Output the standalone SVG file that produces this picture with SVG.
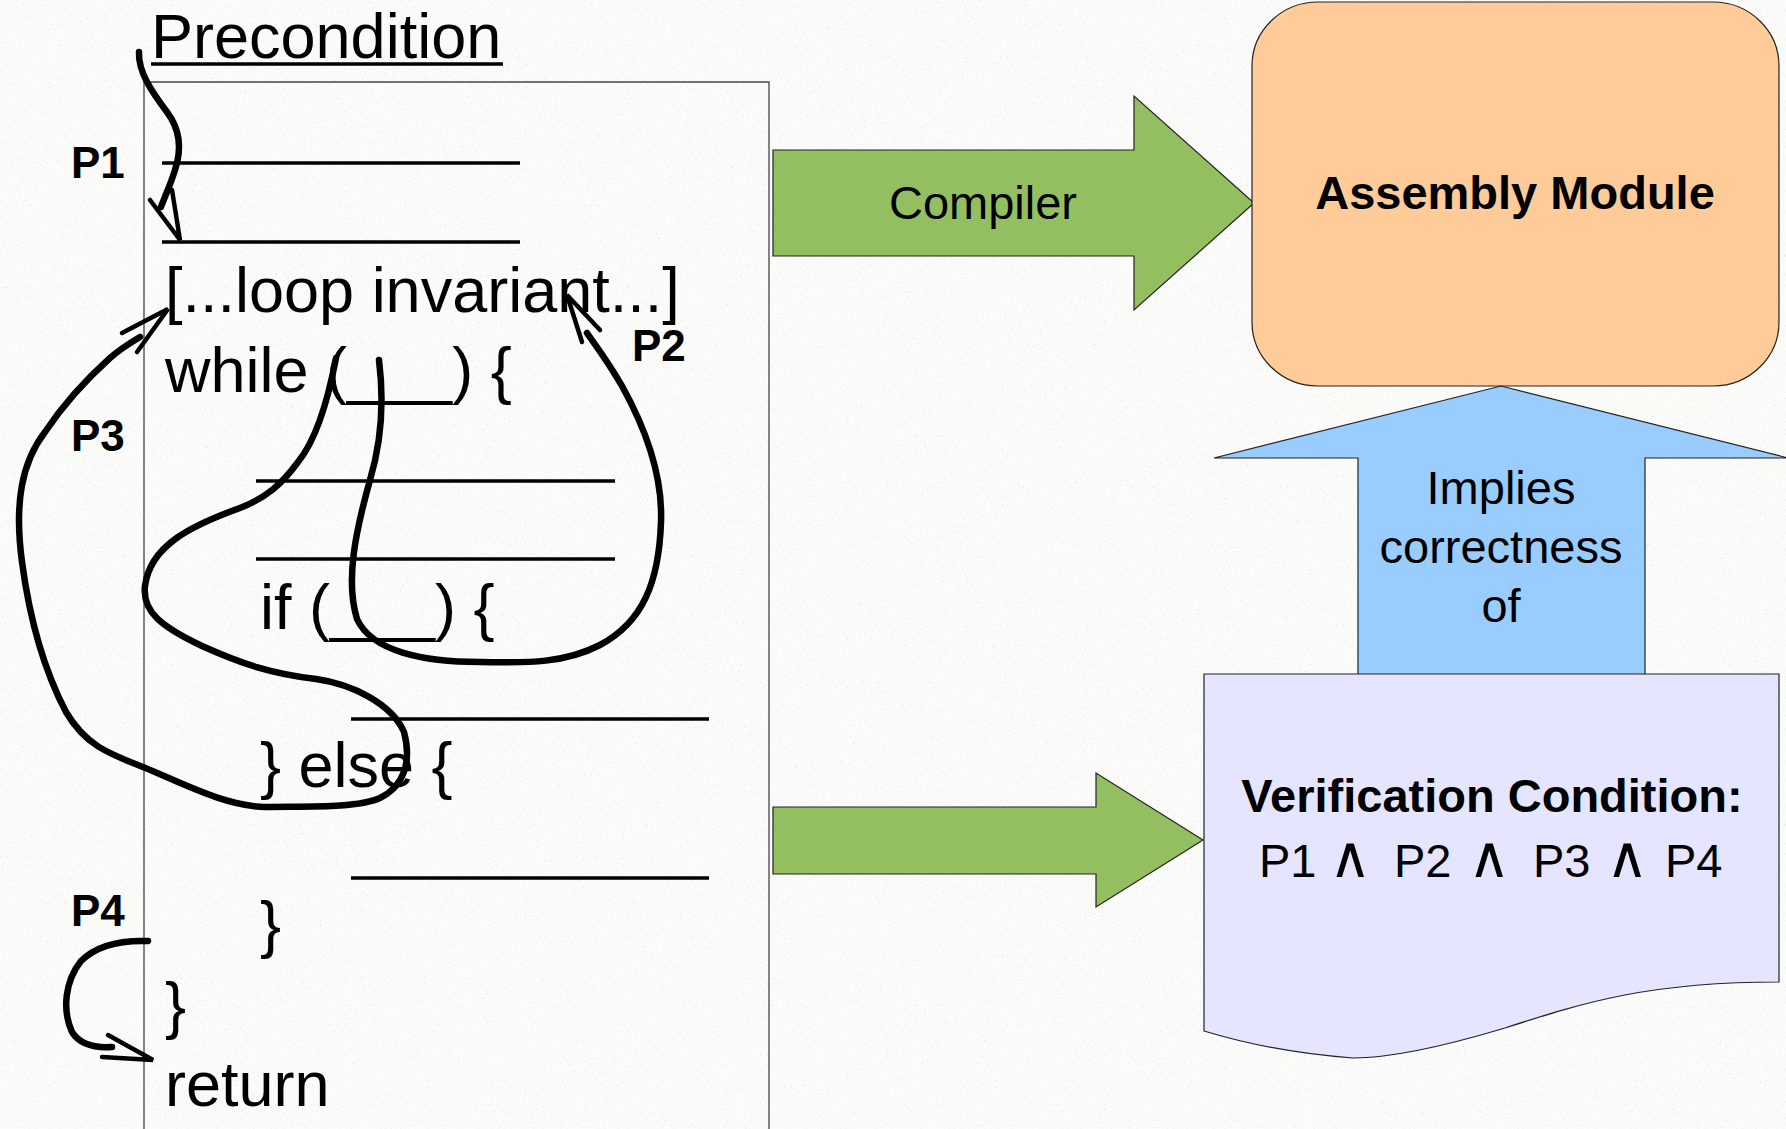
<svg xmlns="http://www.w3.org/2000/svg" width="1786" height="1129" viewBox="0 0 1786 1129">
  <defs>
    <filter id="grain" x="0" y="0" width="100%" height="100%">
      <feTurbulence type="fractalNoise" baseFrequency="0.45" numOctaves="2" seed="7" result="n"/>
      <feColorMatrix in="n" type="matrix" values="0 0 0 0 0.45  0 0 0 0 0.45  0 0 0 0 0.45  3 0 0 0 -1.8"/>
    </filter>
    <style>
      .code { font-family: "Liberation Sans", Arial, sans-serif; font-size: 63px; fill: #000; }
      .lbl { font-family: "Liberation Sans", Arial, sans-serif; font-size: 44px; font-weight: bold; fill: #000; }
      .big { font-family: "Liberation Sans", Arial, sans-serif; font-size: 47px; fill: #000; text-anchor: middle; }
      .bold { font-weight: bold; }
      .and { font-family: "DejaVu Sans", sans-serif; font-size: 58px; font-weight: 200; }
      .blank { stroke: #000; stroke-width: 3.5; fill: none; }
      .hand { stroke: #000; stroke-width: 6.5; fill: none; stroke-linecap: round; stroke-linejoin: round; }
      .head { stroke: #000; stroke-width: 4.5; fill: none; stroke-linecap: round; stroke-linejoin: miter; }
      .shape { stroke: #222; stroke-width: 1.2; }
    </style>
  </defs>

  <!-- paper background -->
  <rect x="0" y="0" width="1786" height="1129" fill="#fbfbfa"/>
  <rect x="0" y="0" width="1786" height="1129" filter="url(#grain)" opacity="0.3"/>

  <!-- source program -->
  <g id="program">
    <text class="code" x="151" y="58">Precondition</text>
    <line x1="151" y1="64" x2="503" y2="64" stroke="#000" stroke-width="3.5"/>
    <path d="M144,1135 V82 H769 V1135" fill="none" stroke="#444" stroke-width="1.3"/>
    <line class="blank" x1="162" y1="163" x2="520" y2="163"/>
    <line class="blank" x1="162" y1="242" x2="520" y2="242"/>
    <text class="code" x="165" y="312">[...loop invariant...]</text>
    <text class="code" x="165" y="392">while (___) {</text>
    <line class="blank" x1="256" y1="481" x2="615" y2="481"/>
    <line class="blank" x1="256" y1="559" x2="615" y2="559"/>
    <text class="code" x="260" y="629">if (___) {</text>
    <line class="blank" x1="351" y1="719" x2="709" y2="719"/>
    <text class="code" x="260" y="787">} else {</text>
    <line class="blank" x1="351" y1="878" x2="709" y2="878"/>
    <text class="code" x="260" y="946">}</text>
    <text class="code" x="165" y="1027">}</text>
    <text class="code" x="165" y="1106">return</text>
  </g>

  <!-- path labels -->
  <g id="labels">
    <text class="lbl" x="71" y="178">P1</text>
    <text class="lbl" x="632" y="361">P2</text>
    <text class="lbl" x="71" y="451">P3</text>
    <text class="lbl" x="71" y="926">P4</text>
  </g>

  <!-- hand-drawn verification paths -->
  <g id="connectors">
    <!-- P1: precondition to loop invariant -->
    <path class="hand" d="M139,52 C138,72 152,92 167,112 C182,132 181,152 175,170 C170,186 165,196 161,207"/>
    <path class="head" d="M150,200 L180,240 L172,190"/>
    <!-- P2: through the if branch back to the invariant -->
    <path class="hand" d="M379,360 C384,400 382,440 370,480 C356,530 345,580 357,619 C372,652 425,662 480,662 C530,663 565,663 600,645 C643,622 659,582 661,522 C663,470 642,422 622,386 C607,360 596,346 587,333"/>
    <path class="head" d="M582,342 L567,295 L600,330"/>
    <!-- P3: through the else branch back to the invariant -->
    <path class="hand" d="M336,358 C328,400 316,440 298,462 C282,484 266,498 240,508 C190,526 150,546 145,586 C142,612 162,627 202,646 C242,664 272,674 316,679 C352,684 392,704 404,732 C412,762 404,786 380,798 C355,809 300,806 265,807 C224,806 180,782 143,767 C110,754 86,746 66,712 C45,672 30,622 22,562 C14,502 22,462 45,432 C65,402 90,376 110,358 C120,349 130,343 140,337"/>
    <path class="head" d="M122,333 L168,309 L137,352"/>
    <!-- P4: loop exit to return -->
    <path class="hand" d="M148,941 C120,940 96,946 81,961 C65,981 62,1010 72,1032 C80,1045 95,1048 112,1047"/>
    <path class="head" d="M102,1057 L153,1060 L108,1035"/>
  </g>

  <!-- compiler arrow -->
  <g id="compiler-arrow">
    <path class="shape" fill="#94bf60" d="M773,150 H1134 V96 L1254,203 L1134,310 V256 H773 Z"/>
    <text class="big" x="983" y="219">Compiler</text>
  </g>

  <!-- generated verification condition arrow -->
  <g id="vc-arrow">
    <path class="shape" fill="#94bf60" d="M773,807 H1096 V773 L1203,840 L1096,907 V874 H773 Z"/>
  </g>

  <!-- assembly module -->
  <g id="assembly">
    <rect class="shape" x="1252" y="2" width="527" height="384" rx="66" ry="64" fill="#ffcc99"/>
    <text class="big bold" x="1515" y="209">Assembly Module</text>
  </g>

  <!-- implication arrow -->
  <g id="implies-arrow">
    <path class="shape" fill="#99ccff" d="M1358,674 V458 H1214 L1501,386 L1788,458 H1645 V674"/>
    <text class="big" x="1501" y="504">Implies</text>
    <text class="big" x="1501" y="563">correctness</text>
    <text class="big" x="1501" y="622">of</text>
  </g>

  <!-- verification condition document -->
  <g id="verification">
    <path class="shape" fill="#e5e5ff" d="M1204,674 H1779 V982 C1650,982 1585,1002 1505,1028 C1435,1049 1385,1058 1353,1058 C1300,1054 1250,1045 1204,1031 Z"/>
    <text class="big bold" x="1492" y="812">Verification Condition:</text>
    <text class="big" style="text-anchor:start"><tspan x="1259" y="877">P1</tspan><tspan class="and" x="1329" y="877">∧</tspan><tspan x="1394" y="877">P2</tspan><tspan class="and" x="1468" y="877">∧</tspan><tspan x="1533" y="877">P3</tspan><tspan class="and" x="1606" y="877">∧</tspan><tspan x="1665" y="877">P4</tspan></text>
  </g>
</svg>
